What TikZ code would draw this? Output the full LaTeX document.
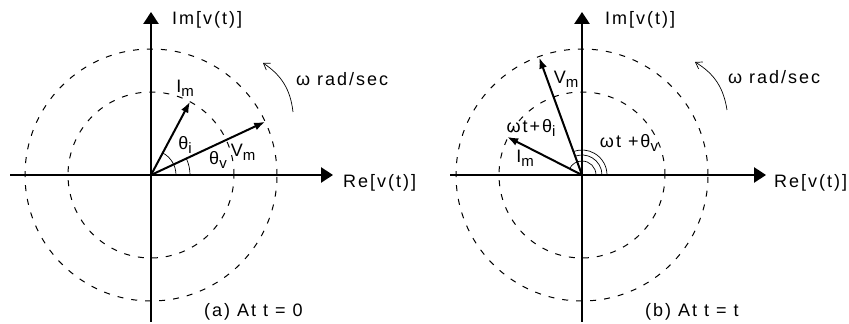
\documentclass[tikz,border=0pt]{standalone}
\usepackage{fontspec}
\setmainfont{Liberation Sans}[LetterSpace=11]
\usetikzlibrary{arrows.meta}
\newcommand{\lowidx}[1]{\raisebox{-0.45ex}{\fontsize{15}{15}\selectfont #1}}

\begin{document}
\begin{tikzpicture}[x=1pt, y=1pt, font=\fontsize{18}{20}\selectfont,
  axis/.style={line width=2.8pt,-{Triangle[length=12pt,width=15pt]}},
  ring/.style={line width=1pt,dash pattern=on 6pt off 8pt},
  phasor/.style={line width=2pt,-{Latex[length=11pt,width=8pt]}},
  anglemark/.style={line width=0.7pt},
  spin/.style={line width=0.7pt,-{Straight Barb[length=6pt,width=8pt]}},
  lbl/.style={inner sep=0pt}]
  \useasboundingbox (0,0) rectangle (849,324);

  % (a) phasors at t = 0
  \begin{scope}[shift={(151,149)}]
    \coordinate (oa) at (0,0);
    \coordinate (xa0) at (-141,0);
    \coordinate (xa1) at (182,0);
    \coordinate (ya0) at (0,-147);
    \coordinate (ya1) at (0,163);
    \draw[ring] (oa) circle[radius=126];
    \draw[ring] (oa) circle[radius=83];
    \draw[axis] (xa0) -- (xa1);
    \draw[axis] (ya0) -- (ya1);

    \coordinate (ia) at (62:83);
    \coordinate (va) at (25:126);
    \draw[phasor] (oa) -- (ia);
    \draw[phasor] (oa) -- (va);
    \draw[anglemark] (25,0) arc[start angle=0,end angle=62,radius=25];
    \draw[anglemark] (39,0) arc[start angle=0,end angle=25,radius=39];

    \node[lbl,anchor=west] (ima) at (21,155) {Im[v(t)]};
    \node[lbl,anchor=west] (rea) at (192,-8) {Re[v(t)]};
    \node[lbl] (ila) at (34,87) {I\lowidx{m}};
    \node[lbl] (tia) at (34,30) {θ\lowidx{i}};
    \node[lbl] (tva) at (67,15) {θ\lowidx{v}};
    \node[lbl] (vla) at (92,23) {V\lowidx{m}};
    \node[lbl,anchor=west] (wa) at (145,96) {ω rad/sec};
    \node[lbl,anchor=west] (capa) at (53,-137) {(a) At t = 0};

    \coordinate (wa0) at (142,63);
    \coordinate (wa1) at (112,112);
    \draw[spin] (wa0) to[bend right=25] (wa1);
  \end{scope}

  % (b) phasors at t = t
  \begin{scope}[shift={(582,149)}]
    \coordinate (ob) at (0,0);
    \coordinate (xb0) at (-132,0);
    \coordinate (xb1) at (184,0);
    \coordinate (yb0) at (0,-147);
    \coordinate (yb1) at (0,163);
    \draw[ring] (ob) circle[radius=126];
    \draw[ring] (ob) circle[radius=83];
    \draw[axis] (xb0) -- (xb1);
    \draw[axis] (yb0) -- (yb1);

    \coordinate (ib) at (153:84);
    \coordinate (vb) at (110:125);
    \draw[phasor] (ob) -- (ib);
    \draw[phasor] (ob) -- (vb);
    \draw[anglemark] (14,0) arc[start angle=0,end angle=153,radius=14];
    \draw[anglemark] (20,0) arc[start angle=0,end angle=110,radius=20];
    \draw[anglemark] (25,0) arc[start angle=0,end angle=110,radius=25];

    \node[lbl,anchor=west] (imb) at (23,155) {Im[v(t)]};
    \node[lbl,anchor=west] (reb) at (192,-8) {Re[v(t)]};
    \node[lbl] (vlb) at (-16,96) {V\lowidx{m}};
    \node[lbl] (tib) at (-51,47) {ωt+θ\lowidx{i}};
    \node[lbl] (ilb) at (-57,17) {I\lowidx{m}};
    \node[lbl] (tvb) at (47,32) {ωt +θ\lowidx{v}};
    \node[lbl,anchor=west] (wb) at (146,98) {ω rad/sec};
    \node[lbl,anchor=west] (capb) at (63,-137) {(b) At t = t};

    \coordinate (wb0) at (145,65);
    \coordinate (wb1) at (113,113);
    \draw[spin] (wb0) to[bend right=25] (wb1);
  \end{scope}
\end{tikzpicture}
\end{document}
